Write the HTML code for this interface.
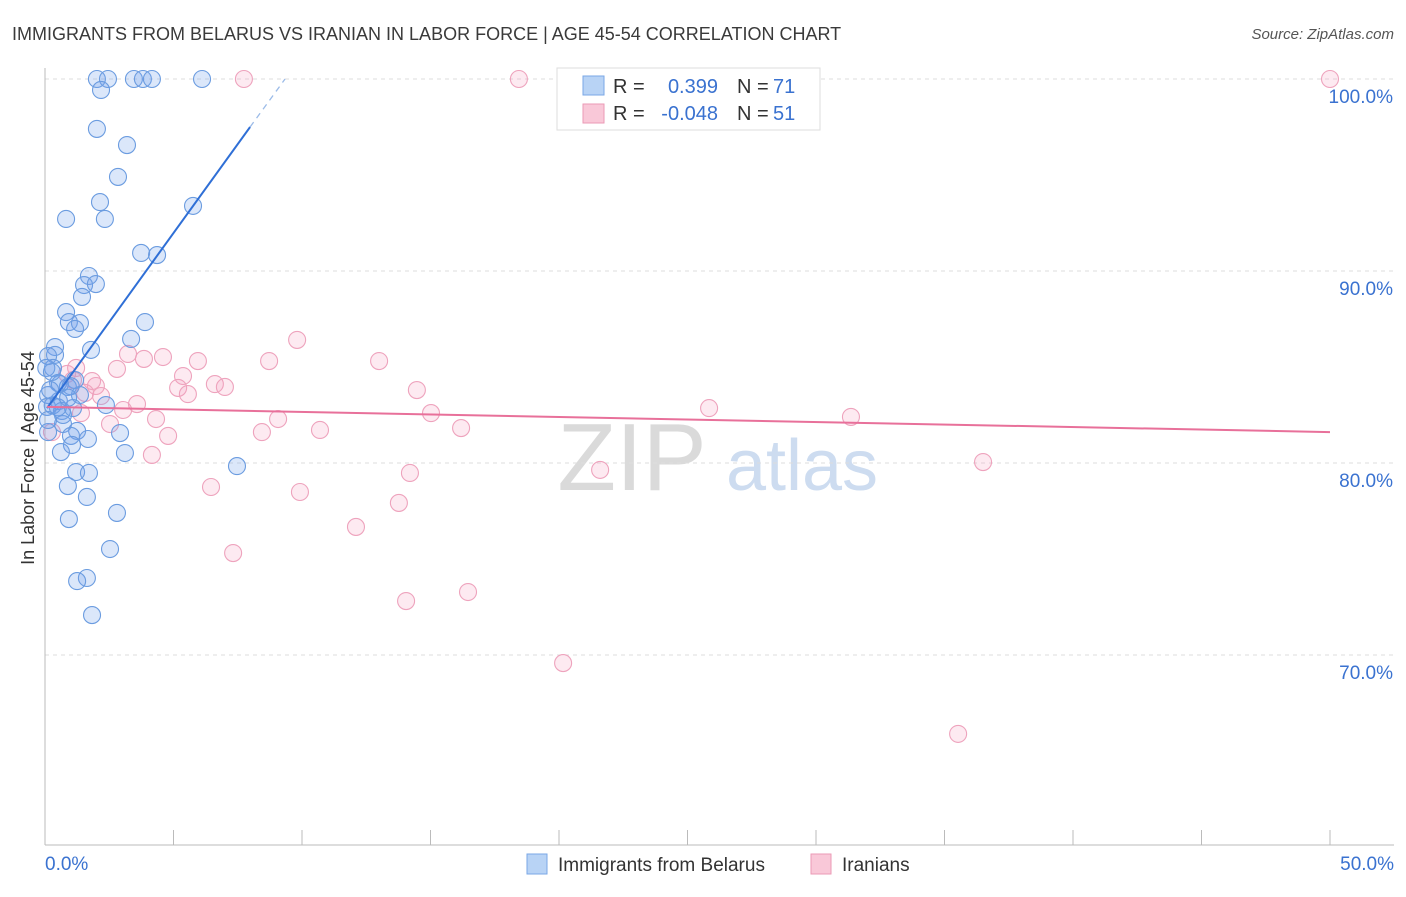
<!DOCTYPE html>
<html><head><meta charset="utf-8"><style>
body{margin:0;background:#fff;font-family:"Liberation Sans",sans-serif;}
svg text{font-family:"Liberation Sans",sans-serif;}
</style></head><body>
<svg id="chart" width="1406" height="892" xmlns="http://www.w3.org/2000/svg">
<text x="12" y="40" font-size="18" fill="#3a3a3a">IMMIGRANTS FROM BELARUS VS IRANIAN IN LABOR FORCE | AGE 45-54 CORRELATION CHART</text>
<text x="1394" y="39" font-size="15" fill="#555" font-style="italic" text-anchor="end">Source: ZipAtlas.com</text>
<g>
<text x="632" y="490" font-size="96" fill="#dadada" font-family="Liberation Serif" text-anchor="middle">ZIP</text>
<text x="802" y="490" font-size="72" fill="#cddcf0" text-anchor="middle">atlas</text>
</g>
<g id="grid"></g>
<g id="axes"></g>
<g id="pts"></g>
<g id="trend"></g>
<text x="34" y="458" font-size="18" fill="#333" text-anchor="middle" transform="rotate(-90 34 458)">In Labor Force | Age 45-54</text>
<g>
<rect x="557" y="68" width="263" height="62" fill="#fff" stroke="#ddd"/>
<rect x="583" y="76" width="21" height="19" fill="#b8d3f5" stroke="#7aa7e6"/>
<rect x="583" y="104" width="21" height="19" fill="#f9c8d8" stroke="#eb9ab6"/>
<text x="613" y="93" font-size="20" fill="#333">R = </text><text x="718" y="93" font-size="20" fill="#3a72d0" text-anchor="end">0.399</text>
<text x="737" y="93" font-size="20" fill="#333">N = </text><text x="773" y="93" font-size="20" fill="#3a72d0">71</text>
<text x="613" y="120" font-size="20" fill="#333">R = </text><text x="718" y="120" font-size="20" fill="#3a72d0" text-anchor="end">-0.048</text>
<text x="737" y="120" font-size="20" fill="#333">N = </text><text x="773" y="120" font-size="20" fill="#3a72d0">51</text>
</g>
<g>
<rect x="527" y="854" width="20" height="20" fill="#b8d3f5" stroke="#7aa7e6"/>
<text x="558" y="871" font-size="19" fill="#333">Immigrants from Belarus</text>
<rect x="811" y="854" width="20" height="20" fill="#f9c8d8" stroke="#eb9ab6"/>
<text x="842" y="871" font-size="19" fill="#333">Iranians</text>
</g>
</svg>
<script>
const blueX=[2.02,2.45,3.46,3.81,4.16,6.11,2.18,2.02,3.19,2.84,2.14,0.82,2.33,5.76,3.74,4.36,1.71,1.52,1.98,1.44,0.82,0.93,1.36,1.17,3.89,3.35,1.79,0.39,0.39,0.12,0.31,0.05,0.51,0.89,1.17,1.36,0.12,0.54,0.08,0.66,1.09,2.37,0.70,1.25,1.01,1.67,2.92,0.12,1.05,0.62,3.11,7.47,1.21,1.71,0.89,1.63,2.80,0.93,2.53,1.63,1.25,1.83,0.12,0.58,0.27,0.3,0.7,1.0,0.2,0.5,0.9];
const blueY=[100,100,100,100,100,100,99.43,97.40,96.56,94.90,93.59,92.71,92.71,93.39,90.94,90.83,89.74,89.27,89.32,88.65,87.86,87.34,87.29,86.98,87.34,86.46,85.89,86.04,85.63,85.57,84.95,84.95,84.17,83.96,84.32,83.54,83.54,83.23,82.92,82.71,82.86,83.02,82.03,81.67,81.41,81.25,81.56,81.61,80.94,80.57,80.52,79.84,79.53,79.48,78.80,78.23,77.40,77.08,75.52,74.01,73.85,72.08,82.24,84.11,84.74,83.0,82.5,84.0,83.8,82.9,83.4];
const pinkX=[7.74,18.44,50,9.81,3.23,4.59,3.85,5.95,8.72,13.00,1.21,2.80,0.86,5.37,6.61,7.00,14.47,5.18,1.98,1.83,5.56,2.18,3.58,3.04,1.40,15.02,25.84,31.36,4.32,9.07,2.53,8.44,10.70,16.19,4.79,4.16,21.60,36.50,14.20,6.46,9.92,13.77,12.10,7.32,14.05,16.46,20.16,35.53,0.27,1.09,1.56];
const pinkY=[100,100,100,86.41,85.68,85.52,85.42,85.31,85.31,85.31,84.95,84.90,84.64,84.53,84.11,83.96,83.80,83.91,84.01,84.27,83.59,83.49,83.07,82.76,82.60,82.60,82.86,82.40,82.29,82.29,82.03,81.61,81.72,81.82,81.41,80.42,79.64,80.05,79.48,78.75,78.49,77.92,76.67,75.31,72.81,73.28,69.58,65.89,81.61,84.32,83.65];
const yTicks=[100,90,80,70];
const yTickLabels=["100.0%","90.0%","80.0%","70.0%"];
const xTickLabels=["0.0%","50.0%"];
const blueTrend=[[0.08,82.86],[7.98,97.5]];
const blueDash=[[7.98,97.5],[9.34,100]];
const pinkTrend=[[0.08,82.92],[50,81.61]];

const NS="http://www.w3.org/2000/svg";
const sx=v=>45+v*25.7;
const sy=v=>79+(100-v)*19.2;
function mk(tag,attrs,parent){const e=document.createElementNS(NS,tag);for(const k in attrs)e.setAttribute(k,attrs[k]);parent.appendChild(e);return e;}
const grid=document.getElementById('grid'),axes=document.getElementById('axes'),pts=document.getElementById('pts'),trend=document.getElementById('trend');
yTicks.forEach((t,i)=>{
  const l=mk('line',{x1:45,x2:1394,y1:sy(t),y2:sy(t),stroke:'#ddd','stroke-dasharray':'4 4'},grid);
  
  
  const tx=mk('text',{x:1393,y:sy(t)+24,'font-size':19,fill:'#3a72d0','text-anchor':'end'},axes);
  tx.textContent=yTickLabels[i];
  
  
});
mk('line',{x1:45,x2:45,y1:68,y2:845,stroke:'#bbb'},axes);
mk('line',{x1:45,x2:1394,y1:845,y2:845,stroke:'#bbb'},axes);
for(let i=0;i<=10;i++){const t=mk('line',{x1:sx(i*5),x2:sx(i*5),y1:830,y2:845,stroke:'#bbb'},axes);}
const xl0=mk('text',{x:45,y:870,'font-size':19,fill:'#3a72d0'},axes);xl0.textContent=xTickLabels[0];


const xl1=mk('text',{x:1394,y:870,'font-size':19,fill:'#3a72d0','text-anchor':'end'},axes);xl1.textContent=xTickLabels[1];


pinkX.forEach((x,i)=>{const c=mk('circle',{cx:sx(x),cy:sy(pinkY[i]),r:8.5,fill:'rgba(244,160,190,0.22)',stroke:'#eea3bd','stroke-width':1.1},pts);
  
  });
blueX.forEach((x,i)=>{const c=mk('circle',{cx:sx(x),cy:sy(blueY[i]),r:8.5,fill:'rgba(110,160,235,0.25)',stroke:'#6b9ce0','stroke-width':1.1},pts);
  
  });
const bt=mk('line',{x1:sx(blueTrend[0][0]),y1:sy(blueTrend[0][1]),x2:sx(blueTrend[1][0]),y2:sy(blueTrend[1][1]),stroke:'#2f6fd6','stroke-width':2},trend);


const bd=mk('line',{x1:sx(blueDash[0][0]),y1:sy(blueDash[0][1]),x2:sx(blueDash[1][0]),y2:sy(blueDash[1][1]),stroke:'#9bbbe8','stroke-width':1.3,'stroke-dasharray':'6 5'},trend);


const pt=mk('line',{x1:sx(pinkTrend[0][0]),y1:sy(pinkTrend[0][1]),x2:sx(pinkTrend[1][0]),y2:sy(pinkTrend[1][1]),stroke:'#e8709a','stroke-width':2},trend);


</script>
</body></html>
